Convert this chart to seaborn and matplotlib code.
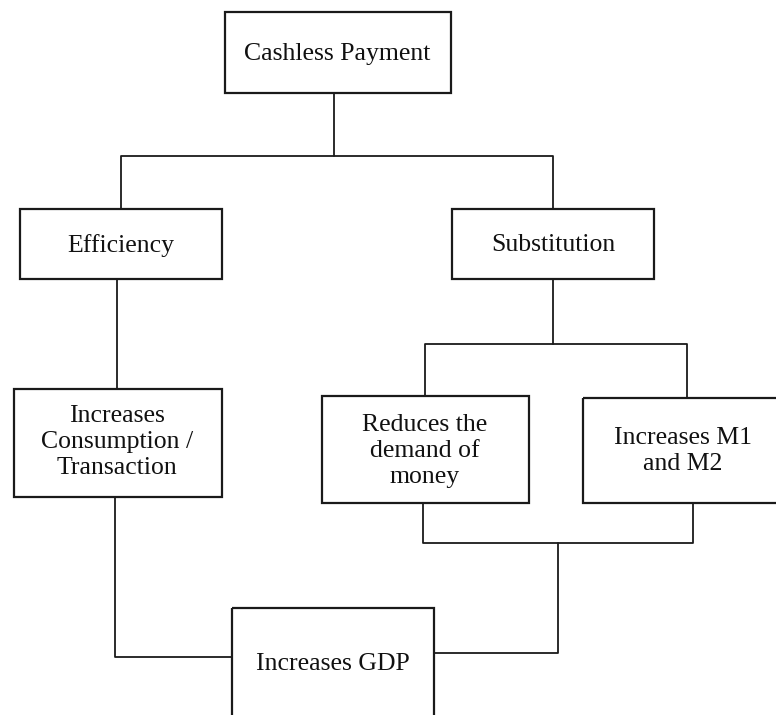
import pandas as pd
import matplotlib.pyplot as plt
import seaborn as sns
from matplotlib.patches import Rectangle

# boxes of the flow chart (pixel space, y down)
labels = ['Cashless Payment', 'Efficiency', 'Substitution',
          'Increases\nConsumption /\nTransaction',
          'Reduces the\ndemand of\nmoney', 'Increases M1\nand M2', 'Increases GDP']
box_left = [225, 20, 452, 14, 322, 583, 232]
box_right = [451, 222, 654, 222, 529, 820, 434]
box_top = [12, 209, 209, 389, 396, 398, 608]
box_bottom = [93, 279, 279, 497, 503, 503, 770]
text_x = [337, 121, 553, 117, 425, 683, 333]
text_y = [54, 246, 245, 442, 451, 451, 664]

# connector polylines
conn_x = [[334, 334],
          [121, 121, 553, 553],
          [117, 117],
          [553, 553],
          [425, 425, 687, 687],
          [423, 423, 693, 693],
          [558, 558, 434],
          [115, 115, 232]]
conn_y = [[93, 156],
          [209, 156, 156, 209],
          [279, 389],
          [279, 344],
          [396, 344, 344, 398],
          [503, 543, 543, 503],
          [543, 653, 653],
          [497, 657, 657]]

rows = []
for i, (xs, ys) in enumerate(zip(conn_x, conn_y)):
    for j, (x, y) in enumerate(zip(xs, ys)):
        rows.append({'seg': i, 'order': j, 'x': x, 'y': y})
lines = pd.DataFrame(rows)

sns.set_theme(style='white')
plt.rcParams['font.family'] = ['Liberation Serif', 'DejaVu Serif']

fig = plt.figure(figsize=(7.76, 7.15), dpi=100)
ax = fig.add_axes([0, 0, 1, 1])

sns.lineplot(data=lines, x='x', y='y', units='seg', estimator=None, sort=False,
             color='#1a1a1a', linewidth=1.3, ax=ax, legend=False)

for lab, l, r, t, b, tx, ty in zip(labels, box_left, box_right, box_top,
                                   box_bottom, text_x, text_y):
    ax.add_patch(Rectangle((l, t), r - l, b - t, fill=False,
                           edgecolor='#1a1a1a', linewidth=1.6))
    ax.text(tx, ty, lab, ha='center', va='center', fontsize=18.5,
            color='#111111', linespacing=1.22)

ax.set_xlim(0, 776)
ax.set_ylim(715, 0)
ax.axis('off')

plt.savefig('out.png', dpi=100)
